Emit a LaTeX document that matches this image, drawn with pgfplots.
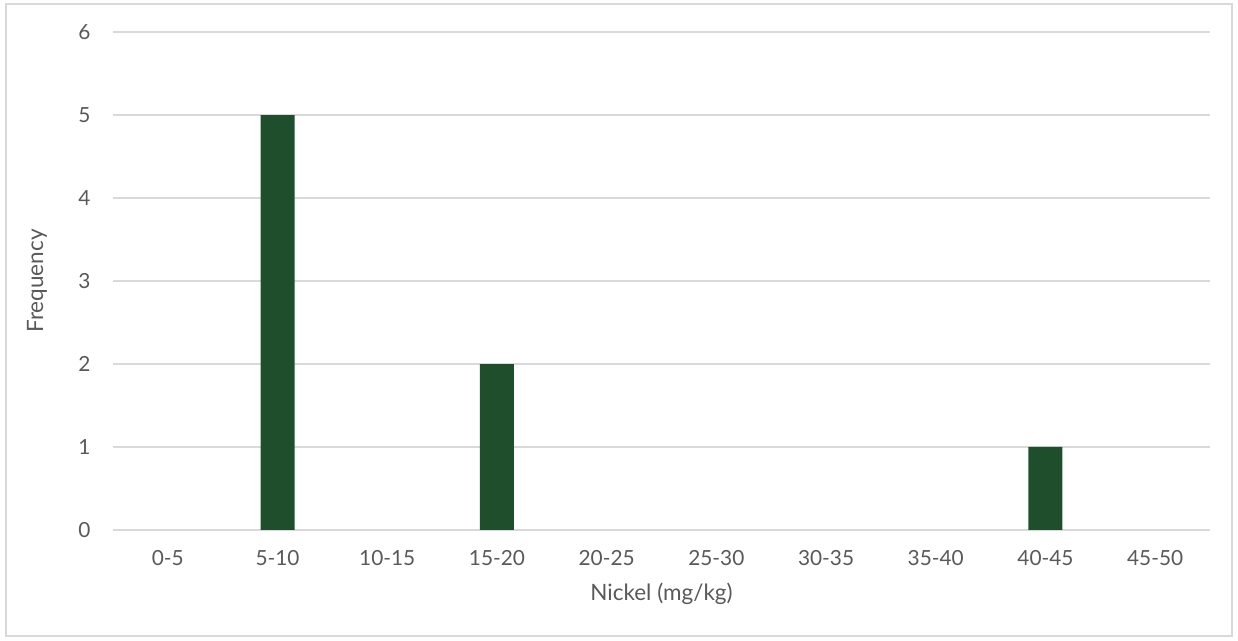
\documentclass[border=0pt]{standalone}
\usepackage{pgfplots}
\pgfplotsset{compat=1.18}
\usepackage{fontspec}
\setmainfont{Lato}
\definecolor{bargreen}{HTML}{1F4E2D}
\definecolor{gridgray}{HTML}{D9D9D9}
\definecolor{txtgray}{HTML}{595959}
\begin{document}
\begin{tikzpicture}
\path[use as bounding box] (0pt,0pt) rectangle (742.8pt,384.6pt);
\draw[gridgray,line width=1.2pt] (3.6pt,3pt) rectangle (739.2pt,382.2pt);
\begin{axis}[
  at={(67.8pt,66.6pt)}, anchor=south west,
  scale only axis,
  width=658.2pt, height=298.8pt,
  xmin=-0.5, xmax=9.5, ymin=0, ymax=6,
  ybar, bar width=20.4pt,
  xtick={0,...,9},
  xticklabels={0-5,5-10,10-15,15-20,20-25,25-30,30-35,35-40,40-45,45-50},
  ytick={0,1,...,6},
  ymajorgrids, grid style={gridgray,line width=0.8pt},
  axis x line*=bottom, axis y line*=left,
  x axis line style={gridgray,line width=0.8pt,-},
  y axis line style={draw=none},
  major tick length=0pt,
  tick label style={font=\fontsize{12.5}{15}\selectfont, text=txtgray},
  /pgf/number format/assume math mode=true,
  xticklabel style={yshift=-9pt},
  yticklabel style={xshift=-10pt},
  xlabel={Nickel (mg/kg)}, ylabel={Frequency},
  label style={font=\fontsize{13.5}{16}\selectfont, text=txtgray},
  xlabel style={yshift=-3pt},
  ylabel style={yshift=12pt},
]
\addplot[fill=bargreen, draw=none] coordinates {(1,5) (3,2) (8,1)};
\end{axis}
\end{tikzpicture}
\end{document}
